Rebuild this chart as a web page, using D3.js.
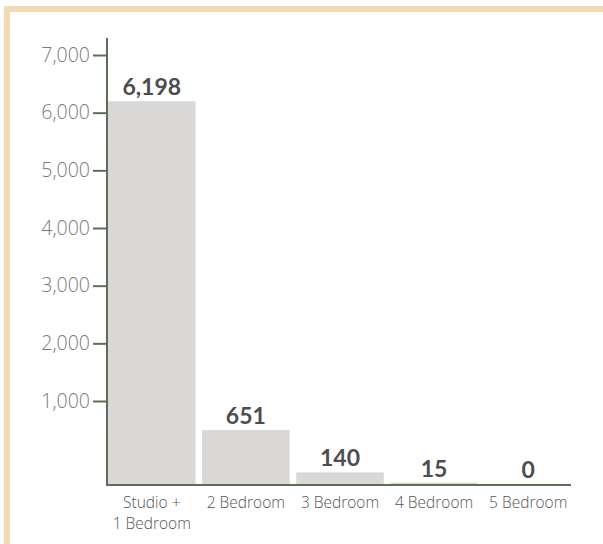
<!DOCTYPE html>
<html>
<head>
<meta charset="utf-8">
<script src="https://cdn.jsdelivr.net/npm/d3@7"></script>
<style>
  body { margin: 0; background: #fff; }
  svg { display: block; font-family: "Open Sans", Lato, sans-serif; }
  .tick text { fill: #7a7a7a; font-weight: 300; }
</style>
</head>
<body>
<div id="chart"></div>
<script>
const categories = [["Studio +", "1 Bedroom"], ["2 Bedroom"], ["3 Bedroom"], ["4 Bedroom"], ["5 Bedroom"]];
const units = [6198, 651, 140, 15, 0];
const yTicks = [1000, 2000, 3000, 4000, 5000, 6000, 7000];

const width = 603;
const height = 544;
const axisColor = "#5b6f57";

const svg = d3.select("#chart")
    .append("svg")
    .attr("width", width)
    .attr("height", height);

// frame (only top and left edge show in the crop)
svg.append("rect").attr("x", 4).attr("y", 6).attr("width", width).attr("height", 6).attr("fill", "#f0dcb0");
svg.append("rect").attr("x", 4).attr("y", 6).attr("width", 6).attr("height", height).attr("fill", "#f0dcb0");

const x = d3.scaleBand()
    .domain(d3.range(categories.length))
    .range([108, 572])
    .paddingInner(0.07)
    .paddingOuter(0);

// the lower part of the axis is stretched a little, as in the original
const y = d3.scaleLinear()
    .domain([0, 1000, 7000])
    .range([484, 401, 55]);

svg.append("g")
    .selectAll("rect")
    .data(units)
    .join("rect")
    .attr("x", (d, i) => x(i))
    .attr("y", d => y(d))
    .attr("width", x.bandwidth())
    .attr("height", d => y(0) - y(d))
    .attr("fill", "#d9d8d6");

svg.append("g")
    .selectAll("text")
    .data(units)
    .join("text")
    .attr("x", (d, i) => x(i) + x.bandwidth() / 2)
    .attr("y", d => y(d) - 6)
    .attr("text-anchor", "middle")
    .attr("font-family", "Lato, sans-serif")
    .attr("font-size", 23)
    .attr("font-weight", 700)
    .attr("fill", "#4d4d4f")
    .text(d => d3.format(",")(d));

// y axis
const yAxis = svg.append("g")
    .attr("transform", "translate(107,0)")
    .call(d3.axisLeft(y).tickValues(yTicks).tickSize(14).tickSizeOuter(0).tickFormat(d3.format(",")));
yAxis.select(".domain").remove();
yAxis.selectAll(".tick line").attr("stroke", axisColor).attr("stroke-width", 2);
yAxis.selectAll(".tick text").attr("font-size", 19.5).attr("x", -17).attr("font-family", "\"Open Sans\", sans-serif");
svg.append("line")
    .attr("x1", 107).attr("x2", 107)
    .attr("y1", 38).attr("y2", y(0) + 1)
    .attr("stroke", axisColor).attr("stroke-width", 2);

// x axis
svg.append("line")
    .attr("x1", 106).attr("x2", 571)
    .attr("y1", y(0) + 1).attr("y2", y(0) + 1)
    .attr("stroke", axisColor).attr("stroke-width", 2);

const labels = svg.append("g");
categories.forEach((lines, i) => {
    const t = labels.append("text")
        .attr("x", x(i) + x.bandwidth() / 2)
        .attr("y", 508)
        .attr("text-anchor", "middle")
        .attr("font-size", 15.5)
        .attr("font-weight", 300)
        .attr("fill", "#555");
    lines.forEach((line, j) => {
        t.append("tspan")
            .attr("x", x(i) + x.bandwidth() / 2)
            .attr("dy", j === 0 ? 0 : 21)
            .text(line);
    });
});
</script>
</body>
</html>
